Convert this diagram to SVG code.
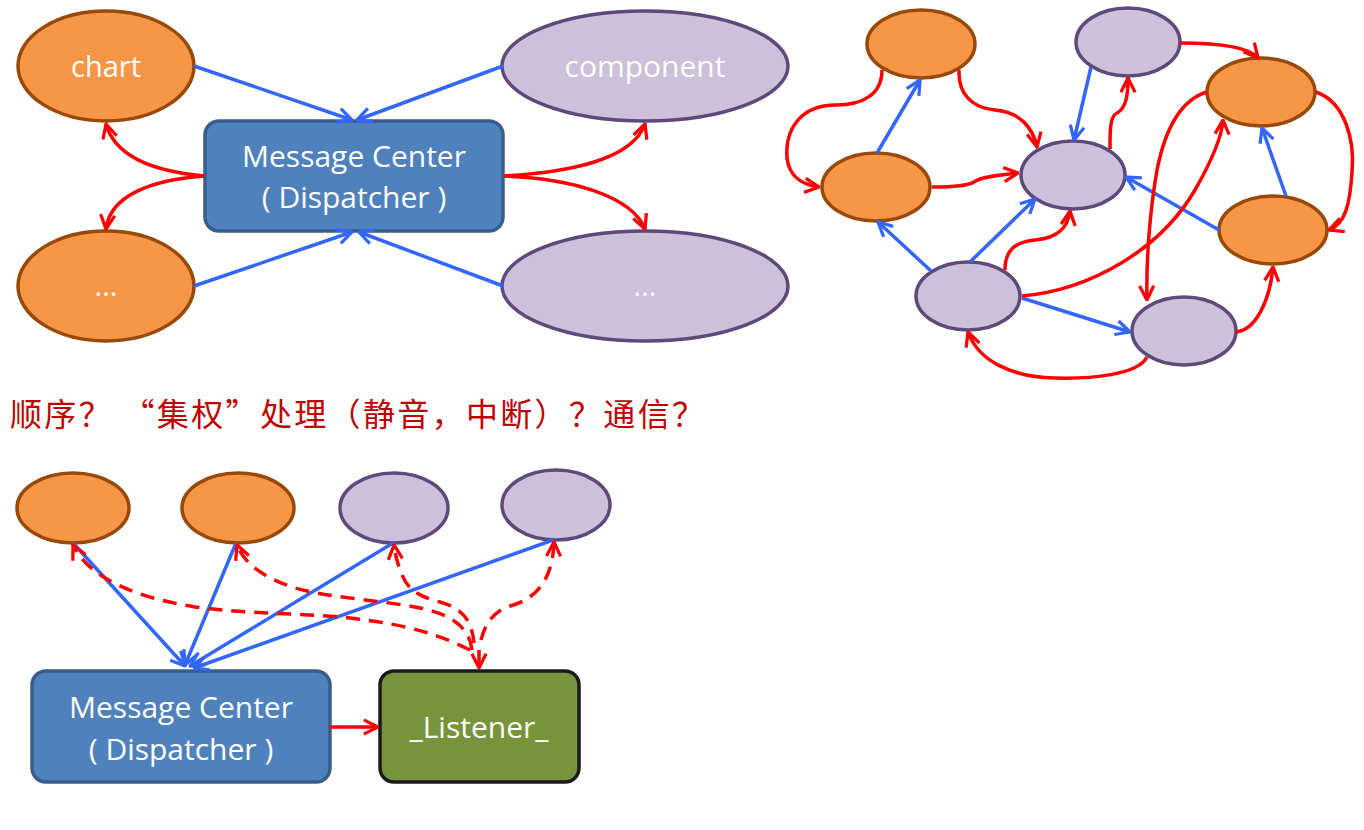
<svg xmlns="http://www.w3.org/2000/svg" width="1364" height="830" viewBox="0 0 1364 830">
<style>
.org{fill:#F79646;stroke:#984807;stroke-width:3.5}
.pur{fill:#CCC0DA;stroke:#5F497A;stroke-width:3.5}
.box{fill:#4F81BD;stroke:#385D8A;stroke-width:3.5}
.lis{fill:#77933C;stroke:#1A1A1A;stroke-width:3.5}
.lbl{font-family:"Open Sans","Noto Sans",sans-serif;fill:#FFFFFF;text-anchor:middle}
.blue{stroke:#3366FF;stroke-width:3.5;fill:none;marker-end:url(#ab)}
.red{stroke:#FF0000;stroke-width:3.5;fill:none;marker-end:url(#ar)}
.dash{stroke:#FF0000;stroke-width:3.5;fill:none;stroke-dasharray:14 9;marker-end:url(#ar)}
</style>
<defs>
<marker id="ab" viewBox="0 0 12 12" refX="11" refY="6" markerWidth="17" markerHeight="17" markerUnits="userSpaceOnUse" orient="auto"><path d="M1,1 L11,6 L1,11" fill="none" stroke="#3366FF" stroke-width="2.3"/></marker>
<marker id="ar" viewBox="0 0 12 12" refX="11" refY="6" markerWidth="17" markerHeight="17" markerUnits="userSpaceOnUse" orient="auto"><path d="M1,1 L11,6 L1,11" fill="none" stroke="#FF0000" stroke-width="2.3"/></marker>
</defs>
<rect width="1364" height="830" fill="#FFFFFF"/>

<!-- top-left nodes -->
<g id="chart"><ellipse class="org" cx="106" cy="66" rx="88" ry="55"/><text class="lbl" x="106" y="77" font-size="29">chart</text></g>
<g id="component"><ellipse class="pur" cx="645" cy="66" rx="143" ry="55"/><text class="lbl" x="645" y="77" font-size="30">component</text></g>
<g id="dots-left"><ellipse class="org" cx="106" cy="286" rx="88" ry="55"/><text class="lbl" x="106" y="296" font-size="29">...</text></g>
<g id="dots-right"><ellipse class="pur" cx="645" cy="286" rx="143" ry="55"/><text class="lbl" x="645" y="296" font-size="29">...</text></g>
<g id="mc1"><rect class="box" x="205" y="121" width="298" height="110" rx="14"/><text class="lbl" x="354" y="167" font-size="30">Message Center</text><text class="lbl" x="354" y="208" font-size="30">( Dispatcher )</text></g>

<!-- top-right graph nodes -->
<g id="ga"><ellipse class="org" cx="921" cy="44" rx="54" ry="34"/></g>
<g id="gb"><ellipse class="pur" cx="1128" cy="42" rx="52" ry="34"/></g>
<g id="gc"><ellipse class="org" cx="1261" cy="92" rx="54" ry="34"/></g>
<g id="gd"><ellipse class="org" cx="876" cy="187" rx="54" ry="34"/></g>
<g id="ge"><ellipse class="pur" cx="1073" cy="175" rx="52" ry="34"/></g>
<g id="gf"><ellipse class="org" cx="1273" cy="230" rx="54" ry="34"/></g>
<g id="gg"><ellipse class="pur" cx="968" cy="296" rx="52" ry="34"/></g>
<g id="gh"><ellipse class="pur" cx="1184" cy="331" rx="52" ry="34"/></g>

<!-- caption -->
<text x="10" y="426" font-family="'Noto Sans CJK SC','Noto Sans',sans-serif" font-size="32" fill="#C00000" textLength="694" lengthAdjust="spacing">顺序？ “集权”处理（静音，中断）？通信？</text>

<!-- bottom nodes -->
<g id="b1"><ellipse class="org" cx="73" cy="508" rx="56" ry="35"/></g>
<g id="b2"><ellipse class="org" cx="238" cy="508" rx="56" ry="35"/></g>
<g id="b3"><ellipse class="pur" cx="394" cy="508" rx="54" ry="35"/></g>
<g id="b4"><ellipse class="pur" cx="556" cy="505" rx="54" ry="35"/></g>
<g id="mc2"><rect class="box" x="32" y="671" width="298" height="111" rx="14"/><text class="lbl" x="181" y="718" font-size="30">Message Center</text><text class="lbl" x="181" y="760" font-size="30">( Dispatcher )</text></g>
<g id="listener"><rect class="lis" x="380" y="671" width="199" height="111" rx="14"/><text class="lbl" x="479" y="738" font-size="30">_Listener_</text></g>

<g id="connectors">
<!-- top-left -->
<path class="blue" d="M194,66 L352,120"/>
<path class="blue" d="M503,66 L357,120"/>
<path class="blue" d="M194,286 L352,232"/>
<path class="blue" d="M503,286 L359,232"/>
<path class="red" d="M204,176 C160,172 116,160 106,124"/>
<path class="red" d="M204,176 C150,180 110,196 106,229"/>
<path class="red" d="M504,176 C570,172 632,160 645,124"/>
<path class="red" d="M504,176 C570,178 632,196 645,229"/>

<!-- top-right blue -->
<path class="blue" d="M877,153 L920,80"/>
<path class="blue" d="M1091,67 L1074,140"/>
<path class="blue" d="M1286,196 L1262,128"/>
<path class="blue" d="M1219,230 L1126,177"/>
<path class="blue" d="M931,271 L878,222"/>
<path class="blue" d="M970,262 L1035,199"/>
<path class="blue" d="M1022,298 L1130,332"/>
<!-- top-right red -->
<path class="red" d="M882,70 C882,95 862,105 836,105 C800,105 785,130 787,158 C789,176 802,185 819,187"/>
<path class="red" d="M959,70 C958,95 973,108 995,110 C1020,112 1033,128 1037,147"/>
<path class="red" d="M932,187 C955,187 968,186 974,182 C980,177 1000,175 1018,173"/>
<path class="red" d="M1110,149 C1110,130 1110,116 1117,113 C1126,108 1128,96 1128,78"/>
<path class="red" d="M1180,43 C1215,43 1248,46 1258,58"/>
<path class="red" d="M1316,92 C1345,102 1355,140 1352,172 C1350,205 1345,224 1329,230"/>
<path class="red" d="M1207,92 C1180,100 1165,130 1157,170 C1150,210 1146,260 1147,300"/>
<path class="red" d="M1022,296 C1090,290 1160,250 1195,190 C1215,155 1222,135 1223,120"/>
<path class="red" d="M1005,270 C1005,250 1015,242 1035,240 C1060,238 1068,226 1070,211"/>
<path class="red" d="M1147,357 C1138,375 1090,379 1055,378 C1010,377 978,360 968,332"/>
<path class="red" d="M1236,332 C1256,330 1270,300 1273,267"/>

<!-- bottom blue -->
<path class="blue" d="M73,543 L185,666"/>
<path class="blue" d="M236,543 L185,665"/>
<path class="blue" d="M393,543 L190,666"/>
<path class="blue" d="M553,540 L194,668"/>
<!-- bottom red dashed -->
<path class="dash" d="M470,650 C440,635 410,625 350,618 C300,613 250,614 195,607 C140,598 90,580 73,545"/>
<path class="dash" d="M472,650 C470,630 455,615 420,608 C380,600 330,598 295,588 C265,578 245,565 237,545"/>
<path class="dash" d="M474,643 C472,620 462,608 440,602 C420,597 408,590 402,575 C398,565 395,555 394,545"/>
<path class="dash" d="M481,640 C485,625 492,612 510,606 C540,598 553,575 554,542"/>
<path class="red" d="M479,650 L479,668"/>
<path class="red" d="M330,727 L378,727"/>
</g>
</svg>
